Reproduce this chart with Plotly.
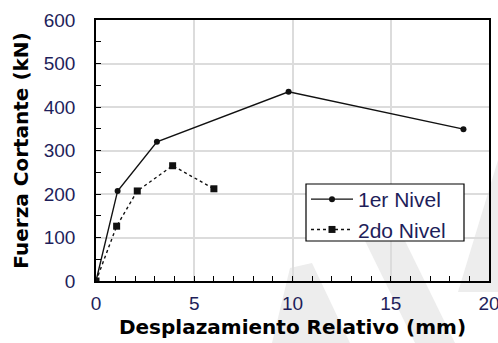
import plotly.graph_objects as go

x1 = [0, 1.1, 3.1, 9.8, 18.7]
y1 = [0, 207, 320, 435, 349]
x2 = [0, 1.05, 2.1, 3.9, 6.0]
y2 = [0, 126, 207, 265, 212]
names = ["1er Nivel", "2do Nivel"]
xticks = [0, 5, 10, 15, 20]
yticks = [0, 100, 200, 300, 400, 500, 600]

tick_color = "#1e1e5a"
W, H = 498, 343
ML, MR, MT, MB = 96, 9, 20, 62
PW, PH = W - ML - MR, H - MT - MB


def px2paper(pts):
    return [((px - ML) / PW, (H - MB - py) / PH) for px, py in pts]


def path(pts):
    p = px2paper(pts)
    return "M " + " L ".join(f"{a:.4f},{b:.4f}" for a, b in p) + " Z"


# faint watermark bands (background decoration)
wm = [
    [(272, 343), (290, 268), (312, 263), (350, 343)],
    [(345, 200), (385, 200), (455, 343), (415, 343)],
    [(458, 292), (498, 160), (498, 292)],
]
shapes = [dict(type="path", xref="paper", yref="paper", path=path(p),
               fillcolor="#ededed", line=dict(width=0), layer="below") for p in wm]

# legend frame
(bx0, by0), (bx1, by1) = px2paper([(306, 241), (464, 184)])
shapes.append(dict(type="rect", xref="paper", yref="paper", x0=bx0, y0=by0, x1=bx1, y1=by1,
                   fillcolor="white", line=dict(color="black", width=1.2), layer="above"))

fig = go.Figure()
fig.add_trace(go.Scatter(x=x1, y=y1, name=names[0], mode="lines+markers",
                         line=dict(color="#111111", width=1.4),
                         marker=dict(symbol="circle", size=6, color="#111111")))
fig.add_trace(go.Scatter(x=x2, y=y2, name=names[1], mode="lines+markers",
                         line=dict(color="#111111", width=1.4, dash="dot"),
                         marker=dict(symbol="square", size=7, color="#111111")))

fig.update_layout(
    width=W, height=H,
    margin=dict(l=ML, r=MR, t=MT, b=MB, autoexpand=False),
    plot_bgcolor="white", paper_bgcolor="white",
    font=dict(family="Liberation Sans, Arial", size=19, color=tick_color),
    showlegend=True,
    legend=dict(x=(306 - ML) / PW, y=(H - MB - 179) / PH, xanchor="left", yanchor="top",
                bgcolor="rgba(0,0,0,0)", borderwidth=0,
                font=dict(family="Liberation Sans, Arial", size=21, color=tick_color),
                tracegroupgap=0, itemwidth=42),
    shapes=shapes,
)
fig.update_xaxes(
    range=[0, 20], tickvals=xticks, ticktext=[str(v) for v in xticks],
    automargin=False, ticklabeloverflow="allow",
    showgrid=True, gridcolor="#dcdcdc", gridwidth=2,
    showline=True, linecolor="black", linewidth=1.5, mirror=True,
    ticks="inside", ticklen=5, tickcolor="black", ticklabelstandoff=4,
    minor=dict(dtick=1, ticks="inside", ticklen=5, tickcolor="black", showgrid=False),
    zeroline=False,
    title=dict(text="Desplazamiento Relativo (mm)", standoff=7,
               font=dict(family="DejaVu Sans", size=20, color="black", weight="bold")),
)
fig.update_yaxes(
    range=[0, 600], tickvals=yticks, ticktext=[str(v) for v in yticks],
    automargin=False, ticklabeloverflow="allow",
    showgrid=True, gridcolor="#dcdcdc", gridwidth=2,
    showline=True, linecolor="black", linewidth=1.5, mirror=True,
    ticks="inside", ticklen=5, tickcolor="black", ticklabelstandoff=15,
    minor=dict(dtick=50, ticks="inside", ticklen=5, tickcolor="black", showgrid=False),
    zeroline=False,
    title=dict(text="Fuerza Cortante (kN)", standoff=10,
               font=dict(family="DejaVu Sans", size=20, color="black", weight="bold")),
)

fig.write_html("out.html")
